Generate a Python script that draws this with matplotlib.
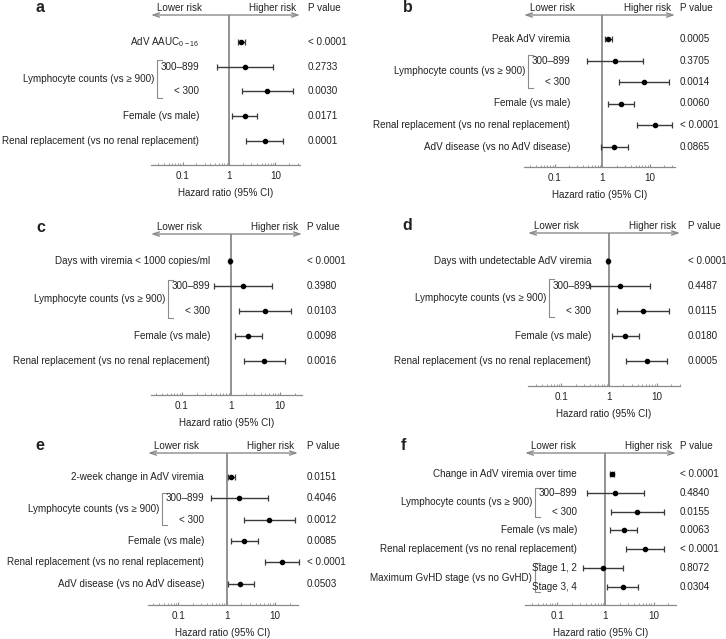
import numpy as np
import matplotlib
matplotlib.use('Agg')
import matplotlib.pyplot as plt
from matplotlib.ticker import FixedLocator, FixedFormatter, NullFormatter

plt.rcParams['font.family'] = ['Liberation Sans', 'DejaVu Sans']
plt.rcParams['mathtext.fontset'] = 'custom'
plt.rcParams['mathtext.rm'] = 'Liberation Sans'

# ---- data ----
LYMPH = 'Lymphocyte counts (vs \u2265 900)'
GVHD = 'Maximum GvHD stage (vs no GvHD)'
RENAL = 'Renal replacement (vs no renal replacement)'
FEMALE = 'Female (vs male)'
DISEASE = 'AdV disease (vs no AdV disease)'

a_labels = ['AdV AAUC$_{\\mathregular{0-16}}$', '300\u2013899', '< 300', FEMALE, RENAL]
a_hr = [1.81, 2.17, 6.6, 2.17, 5.85]
a_lo = [1.56, 0.56, 1.9, 1.16, 2.36]
a_hi = [2.24, 8.8, 23.8, 4.1, 14.5]
a_p = ['< 0.0001', '0.2733', '0.0030', '0.0171', '0.0001']

b_labels = ['Peak AdV viremia', '300\u2013899', '< 300', FEMALE, RENAL, DISEASE]
b_hr = [1.35, 1.88, 7.7, 2.48, 12.7, 1.79]
b_lo = [1.16, 0.48, 2.25, 1.3, 5.5, 0.94]
b_hi = [1.6, 7.3, 25.7, 4.6, 29.0, 3.4]
b_p = ['0.0005', '0.3705', '0.0014', '0.0060', '< 0.0001', '0.0865']

c_labels = ['Days with viremia < 1000 copies/ml', '300\u2013899', '< 300', FEMALE, RENAL]
c_hr = [0.94, 1.77, 4.86, 2.24, 4.7]
c_lo = [0.92, 0.46, 1.43, 1.22, 1.8]
c_hi = [0.96, 6.9, 16.3, 4.17, 12.5]
c_p = ['< 0.0001', '0.3980', '0.0103', '0.0098', '0.0016']

d_labels = ['Days with undetectable AdV viremia', '300\u2013899', '< 300', FEMALE, RENAL]
d_hr = [0.95, 1.7, 5.1, 2.17, 6.1]
d_lo = [0.93, 0.41, 1.47, 1.17, 2.3]
d_hi = [0.97, 7.1, 18.0, 4.15, 16.7]
d_p = ['< 0.0001', '0.4487', '0.0115', '0.0180', '0.0005']

e_labels = ['2-week change in AdV viremia', '300\u2013899', '< 300', FEMALE, RENAL, DISEASE]
e_hr = [1.25, 1.81, 7.6, 2.33, 13.8, 1.93]
e_lo = [1.07, 0.47, 2.26, 1.25, 6.1, 1.05]
e_hi = [1.47, 7.0, 26.5, 4.35, 31.6, 3.6]
e_p = ['0.0151', '0.4046', '0.0012', '0.0085', '< 0.0001', '0.0503']

f_labels = ['Change in AdV viremia over time', '300\u2013899', '< 300', FEMALE, RENAL,
            'Stage 1, 2', 'Stage 3, 4']
f_hr = [1.35, 1.61, 4.6, 2.39, 6.6, 0.9, 2.28]
f_lo = [1.23, 0.42, 1.33, 1.27, 2.67, 0.35, 1.07]
f_hi = [1.51, 6.3, 16.5, 4.5, 16.5, 2.35, 4.8]
f_p = ['< 0.0001', '0.4840', '0.0155', '0.0063', '< 0.0001', '0.8072', '0.0304']

# ---- layout in pixels ----
W, H = 726, 639
FS = 7.15
GRAY = '#8a8a8a'
TXT = '#222222'

panels = [
    dict(tag='a', labels=a_labels, hr=a_hr, lo=a_lo, hi=a_hi, p=a_p, groups=[(LYMPH, 1)],
         x=(151, 300, 229, 46.5), y=(15, 165, 42, 24.75), lab=199, pv=308, let=35),
    dict(tag='b', labels=b_labels, hr=b_hr, lo=b_lo, hi=b_hi, p=b_p, groups=[(LYMPH, 1)],
         x=(524, 675, 602.3, 47.5), y=(15, 167, 39, 21.5), lab=570, pv=680, let=403),
    dict(tag='c', labels=c_labels, hr=c_hr, lo=c_lo, hi=c_hi, p=c_p, groups=[(LYMPH, 1)],
         x=(151, 302, 231, 49.2), y=(234, 395, 261, 25), lab=210, pv=307, let=36),
    dict(tag='d', labels=d_labels, hr=d_hr, lo=d_lo, hi=d_hi, p=d_p, groups=[(LYMPH, 1)],
         x=(528, 680, 609, 47.8), y=(233, 386, 261, 25), lab=591, pv=688, let=402),
    dict(tag='e', labels=e_labels, hr=e_hr, lo=e_lo, hi=e_hi, p=e_p, groups=[(LYMPH, 1)],
         x=(148, 298, 226.7, 48.3), y=(453, 605, 477, 21.35), lab=204, pv=307, let=35),
    dict(tag='f', labels=f_labels, hr=f_hr, lo=f_lo, hi=f_hi, p=f_p,
         groups=[(LYMPH, 1), (GVHD, 5)],
         x=(525, 676, 605.3, 48.2), y=(453, 605, 474, 18.83), lab=577, pv=680, let=401),
]

fig = plt.figure(figsize=(W / 100, H / 100), dpi=100)


def forest(s):
    left, right, x1, dec = s['x']
    top, bottom, y0, sp = s['y']
    ax = fig.add_axes([left / W, 1 - bottom / H, (right - left) / W, (bottom - top) / H])
    ax.set_xscale('log')
    ax.set_xlim(10 ** ((left - x1) / dec), 10 ** ((right - x1) / dec))
    ax.set_ylim((bottom - y0) / sp, (top - y0) / sp)

    def fx(px):
        return (px - left) / (right - left)

    tr = ax.get_yaxis_transform()
    hr = np.array(s['hr'])
    lo = np.array(s['lo'])
    hi = np.array(s['hi'])
    rows = np.arange(len(hr))

    ax.axvline(1, color=GRAY, lw=1.3, zorder=1)
    ax.errorbar(hr, rows, xerr=[hr - lo, hi - hr], fmt='o', color='k', ecolor='#3a3a3a',
                elinewidth=1, capsize=2.2, capthick=0.9, markersize=3.0, zorder=3, clip_on=False)

    for i, (lab, pv) in enumerate(zip(s['labels'], s['p'])):
        ax.text(fx(s['lab']), i, lab, ha='right', va='center', fontsize=FS, color=TXT,
                transform=tr)
        ax.text(fx(s['pv']), i, pv, ha='left', va='center', fontsize=FS, color=TXT,
                transform=tr)

    for name, g in s['groups']:
        xb = s['lab'] - 42
        ax.plot([fx(xb + 5), fx(xb), fx(xb), fx(xb + 5)], [g - 0.26, g - 0.26, g + 1.26, g + 1.26],
                color=GRAY, lw=0.8, transform=tr, clip_on=False)
        ax.text(fx(xb - 3), g + 0.5, name, ha='right', va='center', fontsize=FS, color=TXT,
                transform=tr)

    # header: arrow, risk labels, P value, panel letter
    hy = (top - 7 - y0) / sp
    ax.annotate('', xy=(0, 1), xytext=(1, 1), xycoords='axes fraction',
                arrowprops=dict(arrowstyle='<->,head_length=0.45,head_width=0.15',
                                color=GRAY, lw=1, shrinkA=0, shrinkB=0))
    ax.text(fx(left + 6), hy, 'Lower risk', ha='left', va='center', fontsize=FS, color=TXT,
            transform=tr)
    ax.text(fx(right - 4), hy, 'Higher risk', ha='right', va='center', fontsize=FS, color=TXT,
            transform=tr)
    ax.text(fx(s['pv']), hy, 'P value', ha='left', va='center', fontsize=FS, color=TXT,
            transform=tr)
    ax.text(fx(s['let']), hy, s['tag'], ha='left', va='center', fontsize=11.5, fontweight='bold',
            color=TXT, transform=tr)

    for side in ['left', 'top', 'right']:
        ax.spines[side].set_visible(False)
    ax.spines['bottom'].set_color(GRAY)
    ax.spines['bottom'].set_linewidth(0.9)
    ax.set_yticks([])
    ax.xaxis.set_major_locator(FixedLocator([0.1, 1, 10]))
    ax.xaxis.set_major_formatter(FixedFormatter(['0.1', '1', '10']))
    ax.xaxis.set_minor_formatter(NullFormatter())
    ax.tick_params(axis='x', which='major', direction='in', length=2.5, color=GRAY,
                   labelsize=FS, labelcolor=TXT, pad=4.5)
    ax.tick_params(axis='x', which='minor', direction='in', length=1.5, color=GRAY)
    ax.set_xlabel('Hazard ratio (95% CI)', fontsize=FS, color=TXT, labelpad=5)
    return ax


for s in panels:
    forest(s)

fig.savefig('out.png', dpi=100)
